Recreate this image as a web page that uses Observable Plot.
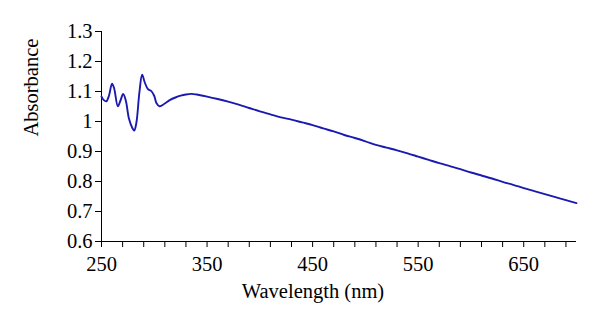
<!DOCTYPE html>
<html>
<head>
<meta charset="utf-8">
<script src="https://cdn.jsdelivr.net/npm/d3@7"></script>
<script src="https://cdn.jsdelivr.net/npm/@observablehq/plot@0.6"></script>
<style>
  html, body { margin: 0; padding: 0; background: #fff; }
  #chart svg { display: block; }
  #chart svg, #chart svg text { font-family: "Liberation Serif", serif !important; font-size: 20.5px !important; }
</style>
</head>
<body>
<div id="chart"></div>
<script>
const wavelength = [250,252,254.5,257,260,262,265.5,268,270.5,273,276,279,281,283,286,288.5,291,294,297,300,302,305,310,315,320,325,330,335,340,350,360,370,380,390,400,410,420,430,440,450,460,470,480,490,500,510,520,530,540,550,560,570,580,590,600,610,620,630,640,650,660,670,680,690,700];
const absorbance = [1.083,1.072,1.067,1.085,1.126,1.110,1.051,1.070,1.092,1.070,1.010,0.980,0.970,0.995,1.100,1.156,1.130,1.108,1.102,1.085,1.062,1.051,1.060,1.072,1.080,1.086,1.090,1.092,1.090,1.083,1.075,1.066,1.056,1.045,1.034,1.024,1.014,1.006,0.997,0.988,0.977,0.967,0.955,0.945,0.934,0.922,0.913,0.904,0.894,0.883,0.872,0.861,0.851,0.841,0.830,0.820,0.810,0.799,0.789,0.778,0.768,0.758,0.748,0.738,0.728];
const xTicks = [250,270,290,310,330,350,370,390,410,430,450,470,490,510,530,550,570,590,610,630,650,670,690];
const xTickLabels = [250,350,450,550,650];
const yTicks = [0.6,0.7,0.8,0.9,1.0,1.1,1.2,1.3];
const xTitle = "Wavelength (nm)";
const yTitle = "Absorbance";

const data = wavelength.map((w, i) => ({w, a: absorbance[i]}));

const chart = Plot.plot({
  width: 600,
  height: 328,
  marginLeft: 101,
  marginRight: 24,
  marginTop: 31,
  marginBottom: 87,
  style: {color: "#000", background: "#fff"},
  x: {domain: [250, 700]},
  y: {domain: [0.6, 1.3]},
  marks: [
    Plot.axisX({ticks: xTicks, tickSize: 6, tickPadding: 9, label: null,
      tickFormat: d => xTickLabels.includes(d) ? String(d) : ""}),
    Plot.axisY({ticks: yTicks, tickSize: 6, tickPadding: 3, label: null,
      tickFormat: d => String(+d.toFixed(1))}),
    Plot.ruleY([0.6], {stroke: "#000", strokeWidth: 1}),
    Plot.ruleX([250], {stroke: "#000", strokeWidth: 1}),
    Plot.line(data, {x: "w", y: "a", stroke: "#1a1ab0", strokeWidth: 1.9, curve: "catmull-rom"}),
    Plot.text([xTitle], {frameAnchor: "bottom", dx: -26, dy: 56, text: d => d}),
    Plot.text([yTitle], {frameAnchor: "left", dx: -70, rotate: -90, text: d => d})
  ]
});
document.getElementById("chart").appendChild(chart);
</script>
</body>
</html>
